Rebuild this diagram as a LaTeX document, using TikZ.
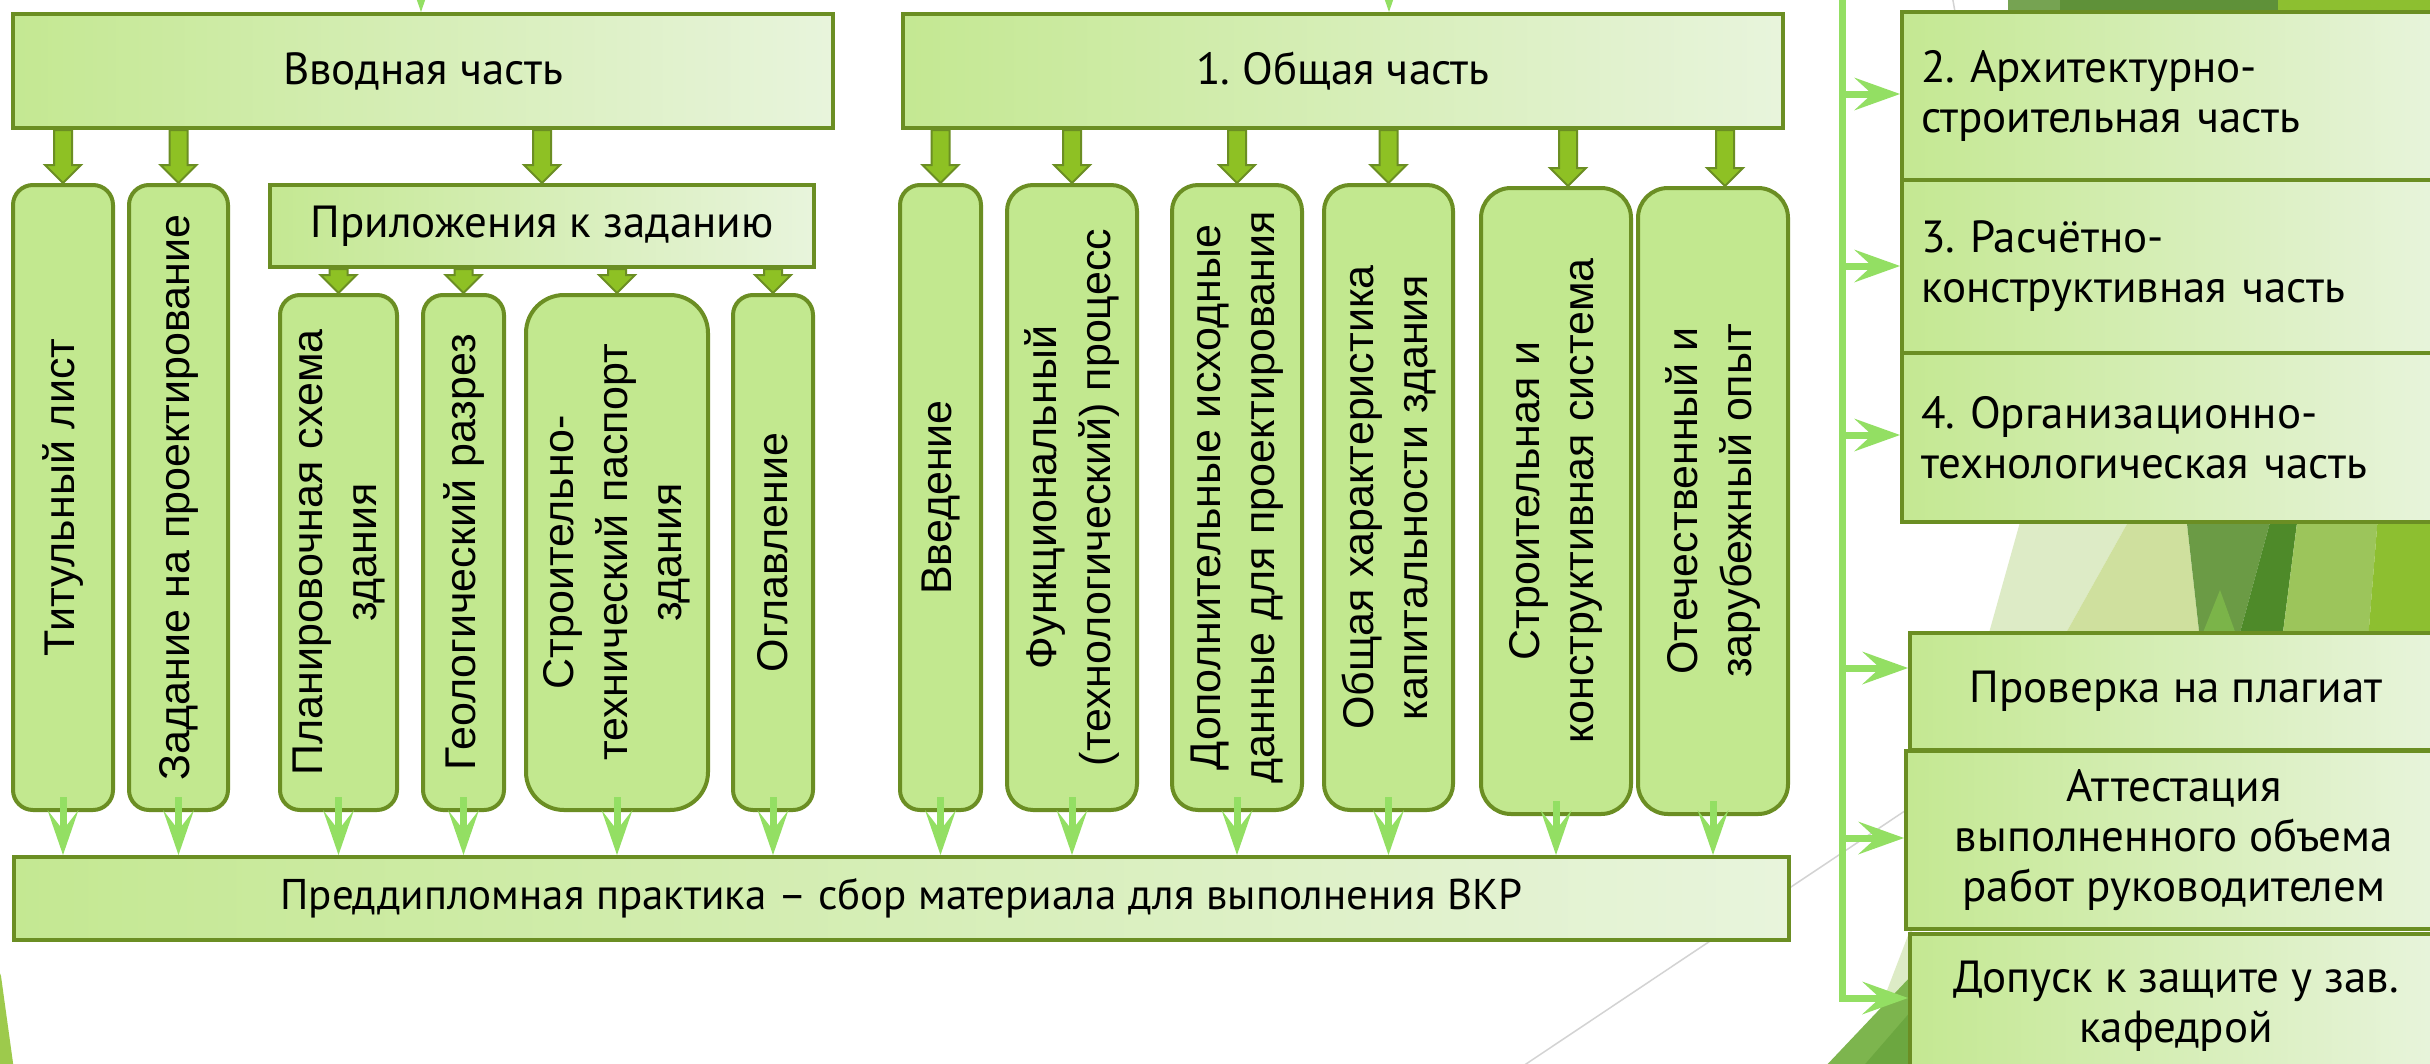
\documentclass[tikz,border=0pt]{standalone}
\usepackage{fontspec}
\setmainfont{PT Sans}
\newfontfamily\vfont{Liberation Sans}
\usetikzlibrary{arrows.meta,calc}
\frenchspacing
\definecolor{bordc}{HTML}{6B8E23}
\definecolor{gL}{HTML}{C4E892}
\definecolor{gR}{HTML}{E8F4DC}
\definecolor{colfill}{HTML}{C2E88F}
\definecolor{darr}{HTML}{8EC124}
\definecolor{lgreen}{HTML}{93DF63}
\definecolor{dpale}{HTML}{DDEBC6}
\definecolor{dtan}{HTML}{CFE09E}
\definecolor{dolive}{HTML}{6B9B45}
\definecolor{dlight}{HTML}{7BB449}
\definecolor{ddark}{HTML}{4E8A29}
\definecolor{dmed}{HTML}{9CC55B}
\definecolor{dyel}{HTML}{8DBF30}
\definecolor{dtopA}{HTML}{76A352}
\definecolor{dtopB}{HTML}{5F9139}
\definecolor{dgreen}{HTML}{7DB54E}
\definecolor{dgreen2}{HTML}{6CA740}
\definecolor{dsliver}{HTML}{9DCA4C}
\definecolor{gline}{HTML}{D3D3D3}
\tikzset{
  hbox/.style={draw=bordc, line width=4pt, left color=gL, right color=gR,
    font=\fontsize{45}{50}\selectfont, text=black, inner sep=0pt, anchor=north west},
  colbox/.style={draw=bordc, line width=4pt, fill=colfill, rounded corners=20pt,
    anchor=north west, inner sep=0pt},
  vtext/.style={font=\vfont\fontsize{43}{54}\selectfont, rotate=90, align=center, inner sep=0pt},
  bigar/.style={fill=darr, draw=bordc, line width=2pt, line join=miter},
  lgarrow/.style={draw=lgreen, line width=7pt,
    -{Stealth[length=45pt, width=31pt, inset=20pt, line width=0pt]}},
  lgarrowh/.style={draw=lgreen, line width=7pt, line join=miter,
    -{Stealth[length=46pt, width=33pt, inset=18pt, line width=0pt]}},
}
\newcommand\blockarr[3][0pt]{\filldraw[bigar] let \p1=(#2), \p2=(#3) in
  (\x2+#1-9pt,\y1) -- (\x2+#1+9pt,\y1) -- (\x2+#1+9pt,\y2+18pt) --
  (\x2+#1+18pt,\y2+18pt) -- (\x2+#1,\y2) -- (\x2+#1-18pt,\y2+18pt) --
  (\x2+#1-9pt,\y2+18pt) -- cycle;}
\begin{document}
\begin{tikzpicture}[x=1pt,y=-1pt]
\useasboundingbox (0,0) rectangle (2430,1063);
\fill[white] (0,0) rectangle (2430,1063);
\clip (0,0) rectangle (2430,1063);

% background decoration
\fill[dsliver] (-5,960) -- (1,976) -- (14,1070) -- (-5,1070) -- cycle;
\draw[gline, line width=1.5pt] (1520,1068) -- (2240,587);
\draw[gline, line width=1.5pt] (1952,-5) -- (2066,635);
\fill[dtopA] (2008,-5) rectangle (2060,30);
\fill[dtopB] (2060,-5) rectangle (2278,30);
\fill[dyel] (2278,-5) rectangle (2440,30);
\fill[dpale] (1987,640) -- (2022,515) -- (2132,515) -- (2062,640) -- cycle;
\fill[dtan] (2062,640) -- (2132,515) -- (2186,515) -- (2200,640) -- cycle;
\fill[dolive] (2186,515) -- (2272,515) -- (2238,640) -- (2200,640) -- cycle;
\fill[dlight] (2200,640) -- (2220,590) -- (2238,640) -- cycle;
\fill[ddark] (2272,515) -- (2298,515) -- (2282,640) -- (2238,640) -- cycle;
\fill[dmed] (2298,515) -- (2378,515) -- (2368,640) -- (2282,640) -- cycle;
\fill[dyel] (2378,515) -- (2440,515) -- (2440,640) -- (2368,640) -- cycle;
\fill[dpale] (1868,1040) -- (1912,925) -- (1912,1000) -- cycle;
\fill[dgreen] (1822,1070) -- (1912,975) -- (1912,1070) -- cycle;
\fill[dgreen2] (1860,1070) -- (1912,1010) -- (1912,1070) -- cycle;

% header boxes
\node[hbox, minimum width=820pt, minimum height=114pt] (vvod) at (11,12) {Вводная часть};
\node[hbox, minimum width=880pt, minimum height=114pt] (obshch) at (901,12) {1. Общая часть};
\node[hbox, minimum width=544pt, minimum height=82pt] (prilozh) at (268,183) {Приложения к заданию};
\node[hbox, minimum width=1775pt, minimum height=83pt, font=\fontsize{43}{50}\selectfont] (bar) at (12,855)
  {Преддипломная практика – сбор материала для выполнения ВКР};

% columns
\node[colbox, minimum width=100pt, minimum height=625pt] (titul) at (11,183) {};
\node[colbox, minimum width=99pt, minimum height=625pt] (zad) at (127,183) {};
\node[colbox, minimum width=117pt, minimum height=515pt] (plan) at (278,293) {};
\node[colbox, minimum width=81pt, minimum height=515pt] (geo) at (421,293) {};
\node[colbox, minimum width=182pt, minimum height=515pt, rounded corners=38pt] (pasp) at (524,293) {};
\node[colbox, minimum width=80pt, minimum height=515pt] (ogl) at (731,293) {};
\node[colbox, minimum width=81pt, minimum height=625pt] (vved) at (898,183) {};
\node[colbox, minimum width=130pt, minimum height=625pt, rounded corners=26pt] (func) at (1005,183) {};
\node[colbox, minimum width=130pt, minimum height=625pt, rounded corners=26pt] (dop) at (1170,183) {};
\node[colbox, minimum width=129pt, minimum height=625pt, rounded corners=26pt] (obsh) at (1322,183) {};
\node[colbox, minimum width=150pt, minimum height=626pt, rounded corners=30pt] (strk) at (1479,186) {};
\node[colbox, minimum width=150pt, minimum height=626pt, rounded corners=30pt] (otech) at (1636,186) {};

\node[vtext] (titul-t) at (titul.center) {Титульный лист};
\node[vtext] (zad-t) at (zad.center) {Задание на проектирование};
\node[vtext] (plan-t) at (plan.center) {Планировочная схема\\здания};
\node[vtext] (geo-t) at (geo.center) {Геологический разрез};
\node[vtext] (pasp-t) at (pasp.center) {Строительно-\\технический паспорт\\здания};
\node[vtext] (ogl-t) at (ogl.center) {Оглавление};
\node[vtext] (vved-t) at (vved.center) {Введение};
\node[vtext] (func-t) at (func.center) {Функциональный\\(технологический) процесс};
\node[vtext] (dop-t) at (dop.center) {Дополнительные исходные\\данные для проектирования};
\node[vtext] (obsh-t) at (obsh.center) {Общая характеристика\\капитальности здания};
\node[vtext] (strk-t) at (strk.center) {Строительная и\\конструктивная система};
\node[vtext] (otech-t) at (otech.center) {Отечественный и\\зарубежный опыт};

% right boxes
\node[hbox, minimum width=540pt, minimum height=168pt, text width=502pt, align=left, inner xsep=19pt] (r2) at (1900,10)
  {2. Архитектурно-\\строительная часть};
\node[hbox, minimum width=540pt, minimum height=173pt, text width=502pt, align=left, inner xsep=19pt] (r3) at (1900,178)
  {3. Расчётно-\\конструктивная часть};
\node[hbox, minimum width=540pt, minimum height=169pt, text width=502pt, align=left, inner xsep=19pt] (r4) at (1900,351)
  {4. Организационно-\\технологическая часть};
\node[hbox, minimum width=532pt, minimum height=117pt] (prov) at (1908,631) {Проверка на плагиат};
\node[hbox, minimum width=536pt, minimum height=178pt, align=center] (att) at (1904,749)
  {Аттестация\\выполненного объема\\работ руководителем};
\node[hbox, minimum width=532pt, minimum height=144pt, align=center] (dop2) at (1908,932)
  {Допуск к защите у зав.\\кафедрой};

% block arrows
\blockarr{vvod.south}{titul.north}
\blockarr{vvod.south}{zad.north}
\blockarr{vvod.south}{prilozh.north}
\blockarr{prilozh.south}{plan.north}
\blockarr{prilozh.south}{geo.north}
\blockarr{prilozh.south}{pasp.north}
\blockarr{prilozh.south}{ogl.north}
\blockarr{obshch.south}{vved.north}
\blockarr{obshch.south}{func.north}
\blockarr{obshch.south}{dop.north}
\blockarr{obshch.south}{obsh.north}
\blockarr[12pt]{obshch.south}{strk.north}
\blockarr[12pt]{obshch.south}{otech.north}

% light arrows into the bar
\foreach \c in {titul,zad,plan,geo,pasp,ogl,vved,func,dop,obsh,strk,otech}{
  \draw[lgarrow] ([yshift=15pt]\c.south) -- (\c.south |- bar.north);
}

% arrows from above
\coordinate (inA) at (421,-60);
\coordinate (inB) at (1389,-60);
\draw[lgarrow] (inA) -- (inA |- vvod.north);
\draw[lgarrow] (inB) -- (inB |- obshch.north);

% right trunk
\coordinate (ttop) at (1842,-10);
\coordinate (tbot) at (1842,998);
\coordinate (t2) at (1842,94);
\coordinate (t3) at (1842,266);
\coordinate (t4) at (1842,435);
\coordinate (t5) at (1842,668);
\coordinate (t6) at (1842,838);
\draw[lgarrowh] (ttop) -- (tbot) -- (tbot -| dop2.west);
\draw[lgarrowh] (t2) -- (t2 -| r2.west);
\draw[lgarrowh] (t3) -- (t3 -| r3.west);
\draw[lgarrowh] (t4) -- (t4 -| r4.west);
\draw[lgarrowh] (t5) -- (t5 -| prov.west);
\draw[lgarrowh] (t6) -- (t6 -| att.west);
\end{tikzpicture}
\end{document}
